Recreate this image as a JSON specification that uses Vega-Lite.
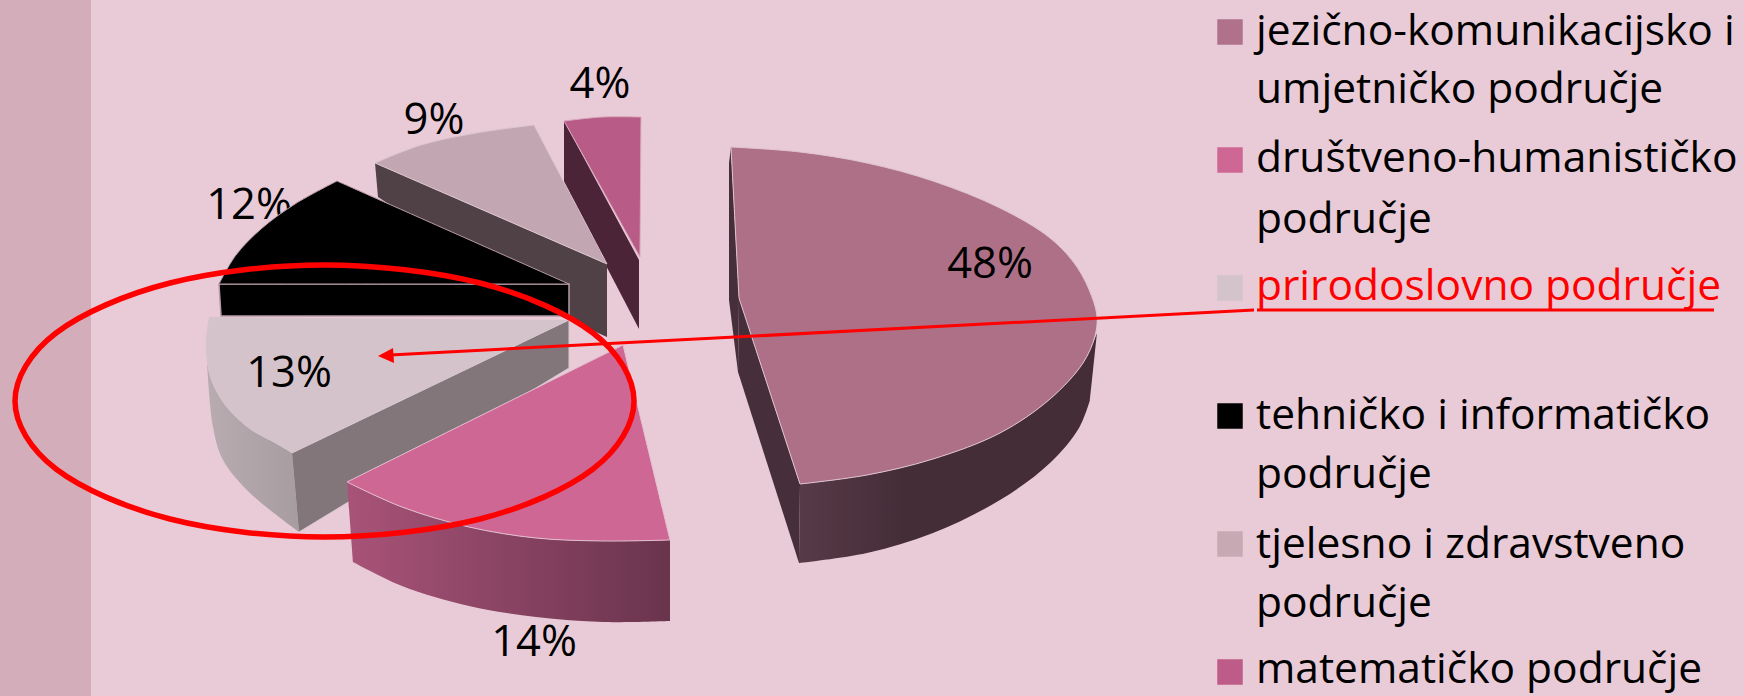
{"$schema":"https://vega.github.io/schema/vega-lite/v6.json","width":1744,"height":696,"padding":0,"autosize":{"type":"fit","contains":"padding"},"background":"#e9cbd7","view":{"stroke":null},
"datasets":{
"o":[
{"p":"band","i":0,"x":0,"y":0},{"p":"band","i":1,"x":91,"y":0},{"p":"band","i":2,"x":91,"y":696},{"p":"band","i":3,"x":0,"y":696},
{"p":"m4w","i":0,"x":564,"y":121},{"p":"m4w","i":1,"x":639,"y":260},{"p":"m4w","i":2,"x":639,"y":329},{"p":"m4w","i":3,"x":564,"y":185},
{"p":"m4t","i":0,"x":564,"y":121},{"p":"m4t","i":0,"x":564,"y":121},{"p":"m4t","i":1,"x":602,"y":117},{"p":"m4t","i":2,"x":641,"y":117},{"p":"m4t","i":2,"x":641,"y":117},{"p":"m4t","i":3,"x":640,"y":257},{"p":"m4t","i":3,"x":640,"y":257},{"p":"m4t","i":4,"x":564,"y":121},{"p":"m4t","i":4,"x":564,"y":121},
{"p":"t9w","i":0,"x":375,"y":163},{"p":"t9w","i":1,"x":607,"y":264},{"p":"t9w","i":2,"x":607,"y":337},{"p":"t9w","i":3,"x":560,"y":316},{"p":"t9w","i":4,"x":378,"y":197},
{"p":"t9t","i":0,"x":375,"y":163},{"p":"t9t","i":0,"x":375,"y":163},{"p":"t9t","i":1,"x":421,"y":145},{"p":"t9t","i":2,"x":476,"y":133},{"p":"t9t","i":3,"x":534,"y":125},{"p":"t9t","i":3,"x":534,"y":125},{"p":"t9t","i":4,"x":607,"y":264},{"p":"t9t","i":4,"x":607,"y":264},{"p":"t9t","i":5,"x":375,"y":163},{"p":"t9t","i":5,"x":375,"y":163},
{"p":"k12w","i":0,"x":219,"y":284},{"p":"k12w","i":1,"x":569,"y":284},{"p":"k12w","i":2,"x":569,"y":316},{"p":"k12w","i":3,"x":221,"y":316},{"p":"k12w","i":4,"x":219,"y":284},
{"p":"k12t","i":0,"x":337,"y":181},{"p":"k12t","i":0,"x":337,"y":181},{"p":"k12t","i":1,"x":295,"y":204},{"p":"k12t","i":2,"x":261,"y":229},{"p":"k12t","i":3,"x":236,"y":255},{"p":"k12t","i":4,"x":219,"y":284},{"p":"k12t","i":4,"x":219,"y":284},{"p":"k12t","i":5,"x":569,"y":284},{"p":"k12t","i":5,"x":569,"y":284},{"p":"k12t","i":6,"x":337,"y":181},{"p":"k12t","i":6,"x":337,"y":181},
{"p":"n13c","i":0,"x":207,"y":362},{"p":"n13c","i":0,"x":207,"y":362},{"p":"n13c","i":1,"x":212,"y":382},{"p":"n13c","i":2,"x":225,"y":405},{"p":"n13c","i":3,"x":250,"y":429},{"p":"n13c","i":4,"x":275,"y":443},{"p":"n13c","i":5,"x":292,"y":453},{"p":"n13c","i":5,"x":292,"y":453},{"p":"n13c","i":6,"x":299,"y":532},{"p":"n13c","i":6,"x":299,"y":532},{"p":"n13c","i":7,"x":250,"y":493},{"p":"n13c","i":8,"x":223,"y":460},{"p":"n13c","i":9,"x":213,"y":427},{"p":"n13c","i":10,"x":207,"y":362},{"p":"n13c","i":10,"x":207,"y":362},
{"p":"n13w","i":0,"x":292,"y":453},{"p":"n13w","i":1,"x":569,"y":320},{"p":"n13w","i":2,"x":569,"y":368},{"p":"n13w","i":3,"x":299,"y":532},
{"p":"n13t","i":0,"x":209,"y":317},{"p":"n13t","i":0,"x":209,"y":317},{"p":"n13t","i":1,"x":569,"y":320},{"p":"n13t","i":1,"x":569,"y":320},{"p":"n13t","i":2,"x":292,"y":453},{"p":"n13t","i":2,"x":292,"y":453},{"p":"n13t","i":3,"x":275,"y":443},{"p":"n13t","i":4,"x":250,"y":429},{"p":"n13t","i":5,"x":225,"y":405},{"p":"n13t","i":6,"x":212,"y":382},{"p":"n13t","i":7,"x":207,"y":362},{"p":"n13t","i":8,"x":206,"y":340},{"p":"n13t","i":9,"x":209,"y":317},{"p":"n13t","i":9,"x":209,"y":317},
{"p":"d14c","i":0,"x":347,"y":482},{"p":"d14c","i":0,"x":347,"y":482},{"p":"d14c","i":1,"x":402,"y":507},{"p":"d14c","i":2,"x":469,"y":527},{"p":"d14c","i":3,"x":536,"y":538},{"p":"d14c","i":4,"x":603,"y":541},{"p":"d14c","i":5,"x":670,"y":540},{"p":"d14c","i":5,"x":670,"y":540},{"p":"d14c","i":6,"x":670,"y":621},{"p":"d14c","i":6,"x":670,"y":621},{"p":"d14c","i":7,"x":603,"y":622},{"p":"d14c","i":8,"x":536,"y":617},{"p":"d14c","i":9,"x":469,"y":606},{"p":"d14c","i":10,"x":402,"y":586},{"p":"d14c","i":11,"x":353,"y":562},{"p":"d14c","i":11,"x":353,"y":562},{"p":"d14c","i":12,"x":347,"y":482},{"p":"d14c","i":12,"x":347,"y":482},
{"p":"d14t","i":0,"x":623,"y":345},{"p":"d14t","i":0,"x":623,"y":345},{"p":"d14t","i":1,"x":670,"y":540},{"p":"d14t","i":1,"x":670,"y":540},{"p":"d14t","i":2,"x":603,"y":541},{"p":"d14t","i":3,"x":536,"y":538},{"p":"d14t","i":4,"x":469,"y":527},{"p":"d14t","i":5,"x":402,"y":507},{"p":"d14t","i":6,"x":347,"y":482},{"p":"d14t","i":6,"x":347,"y":482},{"p":"d14t","i":7,"x":623,"y":345},{"p":"d14t","i":7,"x":623,"y":345},
{"p":"j48b","i":0,"x":731,"y":147},{"p":"j48b","i":1,"x":739,"y":298},{"p":"j48b","i":2,"x":738,"y":372},{"p":"j48b","i":3,"x":729,"y":300},{"p":"j48b","i":4,"x":729,"y":163},
{"p":"j48w","i":0,"x":739,"y":298},{"p":"j48w","i":1,"x":800,"y":484},{"p":"j48w","i":2,"x":799,"y":563},{"p":"j48w","i":3,"x":738,"y":372},
{"p":"j48c","i":0,"x":800,"y":484},{"p":"j48c","i":0,"x":800,"y":484},{"p":"j48c","i":1,"x":867,"y":475},{"p":"j48c","i":2,"x":933,"y":459},{"p":"j48c","i":3,"x":1000,"y":433},{"p":"j48c","i":4,"x":1050,"y":399},{"p":"j48c","i":5,"x":1083,"y":363},{"p":"j48c","i":6,"x":1097,"y":333},{"p":"j48c","i":6,"x":1097,"y":333},{"p":"j48c","i":7,"x":1090,"y":400},{"p":"j48c","i":7,"x":1090,"y":400},{"p":"j48c","i":8,"x":1079,"y":428},{"p":"j48c","i":9,"x":1050,"y":463},{"p":"j48c","i":10,"x":1000,"y":500},{"p":"j48c","i":11,"x":933,"y":533},{"p":"j48c","i":12,"x":867,"y":553},{"p":"j48c","i":13,"x":799,"y":563},{"p":"j48c","i":13,"x":799,"y":563},{"p":"j48c","i":14,"x":800,"y":484},{"p":"j48c","i":14,"x":800,"y":484},
{"p":"j48t","i":0,"x":731,"y":147},{"p":"j48t","i":0,"x":731,"y":147},{"p":"j48t","i":1,"x":800,"y":152},{"p":"j48t","i":2,"x":867,"y":163},{"p":"j48t","i":3,"x":933,"y":181},{"p":"j48t","i":4,"x":1000,"y":208},{"p":"j48t","i":5,"x":1050,"y":238},{"p":"j48t","i":6,"x":1077,"y":267},{"p":"j48t","i":7,"x":1092,"y":297},{"p":"j48t","i":8,"x":1097,"y":317},{"p":"j48t","i":9,"x":1095,"y":336},{"p":"j48t","i":10,"x":1083,"y":363},{"p":"j48t","i":11,"x":1050,"y":399},{"p":"j48t","i":12,"x":1000,"y":433},{"p":"j48t","i":13,"x":933,"y":459},{"p":"j48t","i":14,"x":867,"y":475},{"p":"j48t","i":15,"x":800,"y":484},{"p":"j48t","i":15,"x":800,"y":484},{"p":"j48t","i":16,"x":739,"y":298},{"p":"j48t","i":16,"x":739,"y":298},{"p":"j48t","i":17,"x":731,"y":147},{"p":"j48t","i":17,"x":731,"y":147},
{"p":"ell","i":0,"x":634,"y":401},{"p":"ell","i":1,"x":593,"y":469},{"p":"ell","i":2,"x":480,"y":519},{"p":"ell","i":3,"x":324,"y":537},{"p":"ell","i":4,"x":170,"y":519},{"p":"ell","i":5,"x":56,"y":469},{"p":"ell","i":6,"x":15,"y":401},{"p":"ell","i":7,"x":56,"y":333},{"p":"ell","i":8,"x":170,"y":283},{"p":"ell","i":9,"x":324,"y":265},{"p":"ell","i":10,"x":480,"y":283},{"p":"ell","i":11,"x":593,"y":333},
{"p":"arr","i":0,"x":390,"y":355},{"p":"arr","i":1,"x":1254,"y":310},
{"p":"head","i":0,"x":378,"y":356},{"p":"head","i":1,"x":393,"y":348},{"p":"head","i":2,"x":394,"y":363},
{"p":"ul","i":0,"x":1257,"y":310},{"p":"ul","i":1,"x":1714,"y":310}
],
"shares":[
{"area":"matematičko područje","share":"4%","x":600,"y":85},
{"area":"tjelesno i zdravstveno područje","share":"9%","x":434,"y":121},
{"area":"tehničko i informatičko područje","share":"12%","x":249,"y":206},
{"area":"prirodoslovno područje","share":"13%","x":289,"y":374},
{"area":"društveno-humanističko područje","share":"14%","x":534,"y":643},
{"area":"jezično-komunikacijsko i umjetničko područje","share":"48%","x":990,"y":265}
],
"keys":[
{"area":"jezično-komunikacijsko i umjetničko područje","x":1230,"y":32},
{"area":"društveno-humanističko područje","x":1230,"y":160},
{"area":"prirodoslovno područje","x":1230,"y":288},
{"area":"tehničko i informatičko područje","x":1230,"y":416},
{"area":"tjelesno i zdravstveno područje","x":1230,"y":544},
{"area":"matematičko područje","x":1230,"y":672}
],
"lines":[
{"area":"jezično-komunikacijsko i umjetničko područje","t":"jezično-komunikacijsko i","x":1256,"y":45},
{"area":"jezično-komunikacijsko i umjetničko područje","t":"umjetničko područje","x":1256,"y":103},
{"area":"društveno-humanističko područje","t":"društveno-humanističko","x":1256,"y":172},
{"area":"društveno-humanističko područje","t":"područje","x":1256,"y":233},
{"area":"prirodoslovno područje","t":"prirodoslovno područje","x":1256,"y":300},
{"area":"tehničko i informatičko područje","t":"tehničko i informatičko","x":1256,"y":429},
{"area":"tehničko i informatičko područje","t":"područje","x":1256,"y":488},
{"area":"tjelesno i zdravstveno područje","t":"tjelesno i zdravstveno","x":1256,"y":558},
{"area":"tjelesno i zdravstveno područje","t":"područje","x":1256,"y":617},
{"area":"matematičko područje","t":"matematičko područje","x":1256,"y":683}
]},
"data":{"name":"o"},
"encoding":{"x":{"field":"x","type":"quantitative","scale":{"domain":[0,1744],"nice":false,"zero":false},"axis":null},"y":{"field":"y","type":"quantitative","scale":{"domain":[696,0],"nice":false,"zero":false},"axis":null},"order":{"field":"i","type":"quantitative"}},
"layer":[
{"transform":[{"filter":"datum.p==='band'"}],"mark":{"type":"line","fill":"#d3adba","strokeWidth":0}},
{"data":{"name":"shares"},"mark":{"type":"text","font":"Open Sans","fontSize":43.5,"align":"center","baseline":"middle","color":"#000"},"encoding":{"text":{"field":"share"},"order":{"value":0}}},
{"transform":[{"filter":"datum.p==='m4w'"}],"mark":{"type":"line","fill":"#4c2438","strokeWidth":0}},
{"transform":[{"filter":"datum.p==='m4t'"}],"mark":{"type":"line","interpolate":"catmull-rom","fill":"#b85c87","stroke":"#d9a9bd","strokeWidth":1}},
{"transform":[{"filter":"datum.p==='t9w'"}],"mark":{"type":"line","fill":"#4f4146","strokeWidth":0}},
{"transform":[{"filter":"datum.p==='t9t'"}],"mark":{"type":"line","interpolate":"catmull-rom","fill":"#c2a7b2","stroke":"#dcc6cf","strokeWidth":1}},
{"transform":[{"filter":"datum.p==='k12w'"}],"mark":{"type":"line","fill":"#000000","stroke":"#b79aa6","strokeWidth":1.5}},
{"transform":[{"filter":"datum.p==='k12t'"}],"mark":{"type":"line","interpolate":"catmull-rom","fill":"#000000","stroke":"#b79aa6","strokeWidth":1}},
{"transform":[{"filter":"datum.p==='n13c'"}],"mark":{"type":"line","interpolate":"catmull-rom","strokeWidth":0,"fill":{"gradient":"linear","x1":0,"x2":1,"y1":0,"y2":0,"stops":[{"offset":0,"color":"#b8acb1"},{"offset":1,"color":"#a79ca0"}]}}},
{"transform":[{"filter":"datum.p==='n13w'"}],"mark":{"type":"line","fill":"#82767b","stroke":"#d8c8cf","strokeWidth":1}},
{"transform":[{"filter":"datum.p==='n13t'"}],"mark":{"type":"line","interpolate":"catmull-rom","fill":"#d5c3cb","strokeWidth":0}},
{"transform":[{"filter":"datum.p==='d14c'"}],"mark":{"type":"line","interpolate":"catmull-rom","strokeWidth":0,"fill":{"gradient":"linear","x1":0,"x2":1,"y1":0,"y2":0,"stops":[{"offset":0,"color":"#a85378"},{"offset":1,"color":"#6a344d"}]}}},
{"transform":[{"filter":"datum.p==='d14t'"}],"mark":{"type":"line","interpolate":"catmull-rom","fill":"#cf6795","stroke":"#e3c0cf","strokeWidth":1}},
{"transform":[{"filter":"datum.p==='j48b'"}],"mark":{"type":"line","fill":"#462f3a","strokeWidth":0}},
{"transform":[{"filter":"datum.p==='j48w'"}],"mark":{"type":"line","fill":"#462f3a","strokeWidth":0}},
{"transform":[{"filter":"datum.p==='j48c'"}],"mark":{"type":"line","interpolate":"catmull-rom","strokeWidth":0,"fill":{"gradient":"linear","x1":0,"x2":1,"y1":0,"y2":0,"stops":[{"offset":0,"color":"#573a47"},{"offset":0.35,"color":"#452d38"},{"offset":1,"color":"#452d38"}]}}},
{"transform":[{"filter":"datum.p==='j48t'"}],"mark":{"type":"line","interpolate":"catmull-rom","fill":"#ae7087","stroke":"#e0c4d0","strokeWidth":1}},
{"data":{"name":"shares"},"transform":[{"filter":"datum.share==='13%'||datum.share==='48%'"}],"mark":{"type":"text","font":"Open Sans","fontSize":43.5,"align":"center","baseline":"middle","color":"#000"},"encoding":{"text":{"field":"share"},"order":{"value":0}}},
{"transform":[{"filter":"datum.p==='ell'"}],"mark":{"type":"line","interpolate":"cardinal-closed","stroke":"#ff0000","strokeWidth":5.5}},
{"transform":[{"filter":"datum.p==='arr'"}],"mark":{"type":"line","stroke":"#ff0000","strokeWidth":3}},
{"transform":[{"filter":"datum.p==='head'"}],"mark":{"type":"line","fill":"#ff0000","strokeWidth":0}},
{"transform":[{"filter":"datum.p==='ul'"}],"mark":{"type":"line","stroke":"#ff0000","strokeWidth":3}},
{"data":{"name":"keys"},"mark":{"type":"point","shape":"square","filled":true,"size":650,"opacity":1},"encoding":{"color":{"field":"area","type":"nominal","legend":null,"scale":{"domain":["jezično-komunikacijsko i umjetničko područje","društveno-humanističko područje","prirodoslovno područje","tehničko i informatičko područje","tjelesno i zdravstveno područje","matematičko područje"],"range":["#b0728a","#cf6795","#d3c3cb","#000000","#c6a9b3","#bd5c88"]}},"order":{"value":0}}},
{"data":{"name":"lines"},"mark":{"type":"text","font":"Open Sans","fontSize":42.5,"align":"left","baseline":"alphabetic"},"encoding":{"text":{"field":"t"},"color":{"condition":{"test":"datum.area==='prirodoslovno područje'","value":"#ff0000"},"value":"#000000"},"order":{"value":0}}}
]}
